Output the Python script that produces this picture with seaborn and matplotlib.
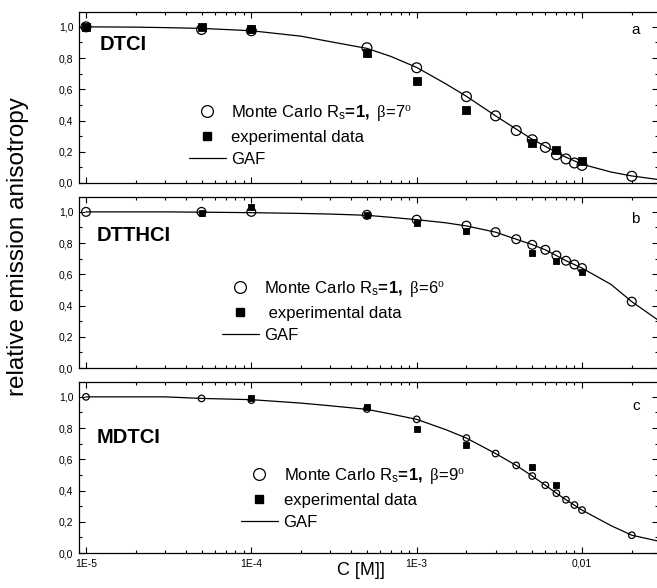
import matplotlib
matplotlib.use("Agg")
import pandas as pd
import matplotlib.pyplot as plt
import seaborn as sns
from matplotlib.lines import Line2D
from matplotlib.ticker import MultipleLocator, FuncFormatter, LogLocator, NullFormatter

# ----------------------- data -----------------------------------------------

# Monte Carlo concentrations (same for all three dyes)
mc_conc = [1e-5, 5e-5, 1e-4, 5e-4, 1e-3, 2e-3, 3e-3, 4e-3, 5e-3, 6e-3, 7e-3, 8e-3, 9e-3, 1e-2, 2e-2]
mc_dtci = [1.0, 0.983, 0.975, 0.866, 0.738, 0.553, 0.430, 0.336, 0.277, 0.228, 0.181, 0.154, 0.128, 0.113, 0.043]
mc_dtthci = [1.0, 1.0, 1.0, 0.981, 0.95, 0.912, 0.870, 0.825, 0.789, 0.757, 0.721, 0.687, 0.663, 0.640, 0.425]
mc_mdtci = [1.0, 0.99, 0.979, 0.922, 0.856, 0.736, 0.637, 0.561, 0.493, 0.434, 0.383, 0.341, 0.307, 0.275, 0.114]

# experimental points
exp_conc_dtci = [1e-5, 5e-5, 1e-4, 5e-4, 1e-3, 2e-3, 5e-3, 7e-3, 1e-2]
exp_dtci = [1.0, 0.996, 0.983, 0.83, 0.655, 0.468, 0.256, 0.209, 0.138]
exp_conc_dtthci = [5e-5, 1e-4, 5e-4, 1e-3, 2e-3, 5e-3, 7e-3, 1e-2]
exp_dtthci = [0.991, 1.034, 0.981, 0.93, 0.876, 0.735, 0.684, 0.618]
exp_conc_mdtci = [1e-4, 5e-4, 1e-3, 2e-3, 5e-3, 7e-3]
exp_mdtci = [0.994, 0.937, 0.793, 0.694, 0.55, 0.436]

# GAF curves (sampled along the drawn line)
gaf_conc = [1e-5, 2e-5, 3e-5, 5e-5, 1e-4, 2e-4, 3e-4, 5e-4, 7e-4, 1e-3, 1.5e-3, 2e-3, 3e-3,
            4e-3, 5e-3, 6e-3, 7e-3, 8e-3, 1e-2, 1.5e-2, 2e-2, 2.9e-2]
gaf_dtci = [1.0, 0.998, 0.995, 0.99, 0.975, 0.94, 0.905, 0.862, 0.81, 0.74, 0.635, 0.555, 0.43,
            0.345, 0.28, 0.235, 0.195, 0.165, 0.12, 0.07, 0.045, 0.022]
gaf_dtthci = [1.0, 1.0, 1.0, 0.998, 0.995, 0.99, 0.986, 0.978, 0.965, 0.95, 0.93, 0.91, 0.87,
              0.825, 0.79, 0.757, 0.72, 0.687, 0.64, 0.535, 0.425, 0.305]
gaf_mdtci = [1.0, 1.0, 1.0, 0.99, 0.982, 0.96, 0.943, 0.92, 0.89, 0.856, 0.79, 0.736, 0.637,
             0.561, 0.493, 0.434, 0.383, 0.341, 0.275, 0.175, 0.114, 0.076]

dyes = ["DTCI", "DTTHCI", "MDTCI"]
panel_letters = ["a", "b", "c"]
betas = [7, 6, 9]

# ----------------------- plotting -------------------------------------------

sns.set_style("ticks")
plt.rcParams["font.family"] = ["Liberation Sans", "DejaVu Sans"]
plt.rcParams["text.color"] = "black"
plt.rcParams["axes.labelcolor"] = "black"
plt.rcParams["xtick.color"] = "black"
plt.rcParams["ytick.color"] = "black"
plt.rcParams["mathtext.fontset"] = "custom"
plt.rcParams["mathtext.rm"] = "Liberation Sans"
plt.rcParams["mathtext.it"] = "Liberation Serif"
plt.rcParams["mathtext.bf"] = "Liberation Sans:bold"

fig = plt.figure(figsize=(6.57, 5.88), dpi=100)

left, width, height = 0.1202, 0.8813, 0.2908
bottoms = [0.6888, 0.3741, 0.0595]
mc_sets = [mc_dtci, mc_dtthci, mc_mdtci]
exp_sets = [(exp_conc_dtci, exp_dtci), (exp_conc_dtthci, exp_dtthci), (exp_conc_mdtci, exp_mdtci)]
gaf_sets = [gaf_dtci, gaf_dtthci, gaf_mdtci]

circle_size = [50, 40, 22]
square_size = [30, 18, 16]
label_pos = [(0.036, 0.807), (0.031, 0.773), (0.031, 0.676)]
letter_pos = [(0.962, 0.895), (0.960, 0.872), (0.962, 0.860)]
legend_pos = [(0.190, 0.47), (0.247, 0.52), (0.280, 0.51)]
exp_labels = ["experimental data", " experimental data", "experimental data"]

x_labels = {1e-5: "1E-5", 1e-4: "1E-4", 1e-3: "1E-3", 1e-2: "0,01"}

for i, dye in enumerate(dyes):
    ax = fig.add_axes([left, bottoms[i], width, height])
    ax.set_xscale("log")

    gaf_df = pd.DataFrame({"conc": gaf_conc, "r": gaf_sets[i]})
    mc_df = pd.DataFrame({"conc": mc_conc, "r": mc_sets[i]})
    exp_df = pd.DataFrame({"conc": exp_sets[i][0], "r": exp_sets[i][1]})

    sns.lineplot(data=gaf_df, x="conc", y="r", ax=ax, color="black", lw=0.9,
                 sort=False, estimator=None, zorder=2)
    sns.scatterplot(data=mc_df, x="conc", y="r", ax=ax, marker="o", s=circle_size[i],
                    facecolor="none", edgecolor="black", linewidth=0.9, zorder=3)
    sns.scatterplot(data=exp_df, x="conc", y="r", ax=ax, marker="s", s=square_size[i],
                    color="black", edgecolor="black", linewidth=0.6, zorder=4)

    ax.set_xlim(9.07e-6, 0.0288)
    ax.set_ylim(0, 1.095)
    ax.set_xlabel("")
    ax.set_ylabel("")

    ax.yaxis.set_major_locator(MultipleLocator(0.2))
    ax.yaxis.set_minor_locator(MultipleLocator(0.1))
    ax.yaxis.set_major_formatter(FuncFormatter(lambda v, p: f"{v:.1f}".replace(".", ",")))
    ax.xaxis.set_major_locator(LogLocator(base=10))
    ax.xaxis.set_minor_locator(LogLocator(base=10, subs=range(2, 10)))
    ax.xaxis.set_minor_formatter(NullFormatter())
    if i == 2:
        ax.xaxis.set_major_formatter(FuncFormatter(
            lambda v, p: min(x_labels.items(), key=lambda kv: abs(kv[0] - v) / kv[0])[1]))
    else:
        ax.xaxis.set_major_formatter(NullFormatter())

    ax.tick_params(which="both", direction="in", top=True, right=True, width=0.8,
                   labelsize=7.5, colors="black")
    ax.tick_params(which="major", length=4.5, pad=4)
    ax.tick_params(which="minor", length=2.5)
    for side in ["left", "bottom", "top", "right"]:
        ax.spines[side].set_linewidth(0.9)
        ax.spines[side].set_color("black")

    ax.text(*label_pos[i], dye, transform=ax.transAxes, fontsize=14.5, fontweight="bold",
            va="center", ha="left")
    ax.text(*letter_pos[i], panel_letters[i], transform=ax.transAxes, fontsize=11,
            va="center", ha="center")

    handles = [
        Line2D([], [], marker="o", ls="none", markersize=8.5, markerfacecolor="white",
               markeredgecolor="black", markeredgewidth=0.9),
        Line2D([], [], marker="s", ls="none", markersize=6, color="black"),
        Line2D([], [], color="black", lw=0.9),
    ]
    labels = [
        r"Monte Carlo R$_\mathrm{s}\mathbf{\!=\!1,}$ $\mathit{\beta\!=\!" + str(betas[i]) + r"^o}$",
        exp_labels[i],
        "GAF",
    ]
    ax.legend(handles, labels, loc="upper left", bbox_to_anchor=legend_pos[i], frameon=False,
              fontsize=12, handlelength=2.2, handletextpad=0.35, labelspacing=0.42,
              borderpad=0, borderaxespad=0)

fig.text(0.028, 0.581, "relative emission anisotropy", rotation=90, fontsize=17.5,
         ha="center", va="center")
fig.text(0.549, 0.0306, "C [M]]", fontsize=13, ha="center", va="center")

fig.savefig("out.png", dpi=100)
